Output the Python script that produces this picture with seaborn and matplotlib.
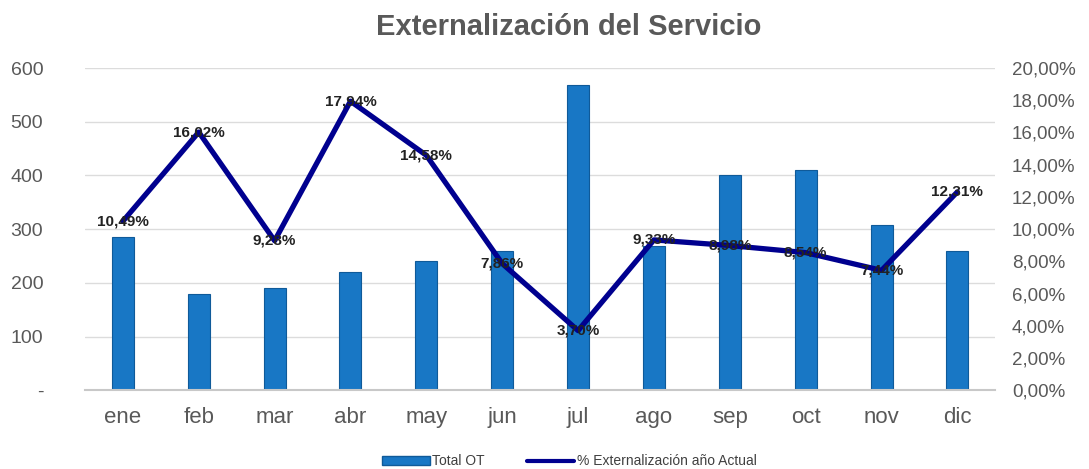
import matplotlib
matplotlib.use("Agg")
import matplotlib.pyplot as plt
import matplotlib.ticker as mticker
from matplotlib.patches import Patch
from matplotlib.lines import Line2D
import seaborn as sns
import pandas as pd

# data
meses = ['ene', 'feb', 'mar', 'abr', 'may', 'jun', 'jul', 'ago', 'sep', 'oct', 'nov', 'dic']
total_ot = [285, 180, 190, 220, 240, 260, 568, 268, 400, 410, 308, 260]
pct_ext = [10.49, 16.02, 9.28, 17.94, 14.58, 7.86, 3.70, 9.33, 8.98, 8.54, 7.44, 12.31]

df = pd.DataFrame({'Mes': meses, 'Total': total_ot, 'Pct': pct_ext})

sns.set_theme(style='white')
plt.rcParams['font.family'] = ['Liberation Sans', 'DejaVu Sans']

gris = '#595959'
azul = '#1877c5'
navy = '#00008f'

fig = plt.figure(figsize=(10.89, 4.69), dpi=100)
ax = fig.add_axes([0.078, 0.168, 0.836, 0.687])

sns.barplot(x='Mes', y='Total', data=df, color=azul, width=0.29,
            edgecolor='#0f5a99', linewidth=0.8, saturation=1, ax=ax, zorder=2)
ax.set_ylim(0, 600)
ax.set_xlim(-0.5, 11.5)
ax.yaxis.set_major_locator(mticker.MultipleLocator(100))
ax.yaxis.set_major_formatter(mticker.FuncFormatter(lambda v, p: '-' if v == 0 else f'{v:.0f}'))
ax.grid(axis='y', color='#dcdcdc', linewidth=1, zorder=0)
ax.set_xlabel('')
ax.set_ylabel('')
for s in ['top', 'right', 'left']:
    ax.spines[s].set_visible(False)
ax.spines['bottom'].set_color('#c8c8c8')
ax.spines['bottom'].set_linewidth(1.5)
ax.tick_params(axis='y', labelsize=14, colors=gris, length=0, pad=30)
ax.tick_params(axis='x', labelsize=16, colors=gris, length=0, pad=12)

ax2 = ax.twinx()
sns.lineplot(x='Mes', y='Pct', data=df, color=navy, linewidth=3.8, sort=False, ax=ax2, zorder=3)
ax2.set_ylim(0, 20)
ax2.yaxis.set_major_locator(mticker.MultipleLocator(2))
ax2.yaxis.set_major_formatter(mticker.FuncFormatter(lambda v, p: f'{v:.2f}%'.replace('.', ',')))
ax2.tick_params(axis='y', labelsize=13.5, colors=gris, length=0, pad=12)
ax2.set_ylabel('')
for s in ['top', 'right', 'left', 'bottom']:
    ax2.spines[s].set_visible(False)

# data labels on the line
for i, v in enumerate(pct_ext):
    ax2.text(i, v, f'{v:.2f}%'.replace('.', ','), ha='center', va='center',
             fontsize=11, fontweight='bold', color='#222222', zorder=4)

fig.suptitle('Externalización del Servicio', x=0.522, y=0.972, fontsize=21,
             fontweight='bold', color=gris)

handles = [Patch(facecolor=azul, edgecolor='#0f5a99'),
           Line2D([0], [0], color=navy, linewidth=3)]
fig.legend(handles, ['Total OT', '% Externalización año Actual'], loc='lower center',
           bbox_to_anchor=(0.523, -0.025), ncol=2, frameon=False, fontsize=10,
           handlelength=3.4, handleheight=0.6, columnspacing=3.0, handletextpad=0.2,
           labelcolor='#404040')

fig.savefig('out.png', dpi=100)
